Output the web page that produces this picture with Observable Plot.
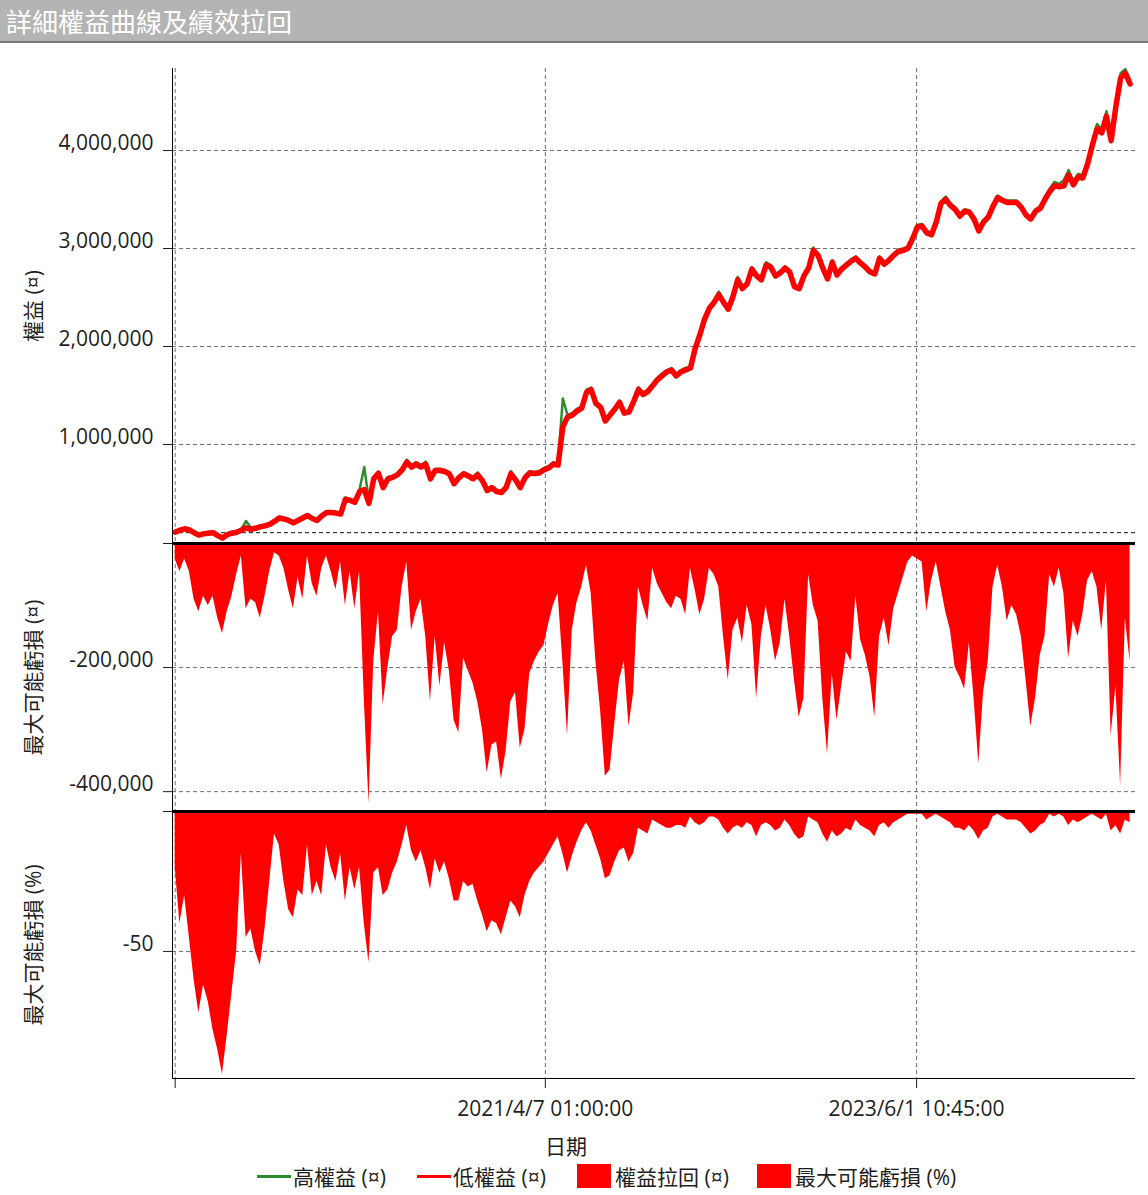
<!DOCTYPE html>
<html>
<head>
<meta charset="utf-8">
<script src="https://cdn.jsdelivr.net/npm/d3@7"></script>
<script src="https://cdn.jsdelivr.net/npm/@observablehq/plot@0.6"></script>
<style>
  body { margin: 0; background: #fff; font-family: "Open Sans", "Noto Sans CJK TC", sans-serif; color: #1e1e1e; }
  #wrap { position: relative; width: 1148px; height: 1195px; overflow: hidden; background: #fff; }
  #title { position: absolute; left: 0; top: 0; width: 1148px; height: 43px; box-sizing: border-box;
           background: #b4b4b4; border-bottom: 2px solid #787878; color: #fff; font-size: 26px;
           line-height: 41px; padding-left: 6px; font-family: "Noto Sans CJK TC", sans-serif; }
  .panel { position: absolute; left: 0; }
  .panel svg { background: transparent !important; overflow: visible; }
  #xlabel { position: absolute; top: 1130px; left: 566px; transform: translateX(-50%); font-size: 21px; }
  .legend-item { position: absolute; top: 1163px; height: 26px; display: flex; align-items: center; font-size: 21px; white-space: nowrap; }
  .sw-line { width: 34px; height: 3px; margin-right: 2px; }
  .sw-box { width: 34px; height: 24px; margin-right: 4px; }
</style>
</head>
<body>
<div id="wrap">
  <div id="title"></div>
  <div id="p1" class="panel" style="top:60px"></div>
  <div id="p2" class="panel" style="top:533px"></div>
  <div id="p3" class="panel" style="top:801px"></div>
  <div id="xlabel"></div>
  <div id="legend"></div>
</div>
<script>
// ---------- texts ----------
const titleText = "詳細權益曲線及績效拉回";
const xAxisTitle = "日期";
const equityLabel = "權益 (¤)";
const drawdownLabel = "最大可能虧損 (¤)";
const drawdownPctLabel = "最大可能虧損 (%)";
const legendLabels = ["高權益 (¤)", "低權益 (¤)", "權益拉回 (¤)", "最大可能虧損 (%)"];

// ---------- x axis ----------
const firstSampleDate = "2019-02-14T00:00:00Z";
const sampleStepDays = 10;
const xDomain = [new Date("2019-02-08T08:00:00Z"), new Date("2024-09-06T12:00:00Z")];
const xTickDates = ["2019-02-14T00:00:00Z", "2021-04-07T01:00:00Z", "2023-06-01T10:45:00Z"];
const xTickLabels = ["", "2021/4/7 01:00:00", "2023/6/1 10:45:00"];

// ---------- y axes ----------
const equityTicks = [1000000, 2000000, 3000000, 4000000];
const drawdownTicks = [0, -200000, -400000];
const drawdownPctTicks = [0, -50];
const equityDomain = [-10200, 4837000];
const drawdownDomain = [-432000, 0];
const drawdownPctDomain = [-95.4, 0];
const initialCapital = 100000;

// ---------- series (equity in thousands, one value every 10 days) ----------
const lowEquityK = [
  105,125,140,128,100,75,88,95,100,70,
  45,80,95,105,125,150,135,145,160,170,
  185,215,250,240,225,200,225,250,275,245,
  225,270,305,305,300,290,440,430,410,520,
  540,400,650,705,560,650,665,690,740,820,
  770,800,770,800,650,735,735,725,700,600,
  660,700,680,650,690,630,530,560,520,510,
  560,700,640,560,660,710,705,710,740,760,
  800,790,1180,1280,1300,1340,1370,1530,1560,1420,
  1380,1240,1300,1360,1430,1320,1330,1440,1560,1510,
  1540,1600,1660,1700,1740,1760,1700,1740,1760,1780,
  1980,2120,2280,2390,2450,2530,2450,2380,2510,2680,
  2590,2640,2790,2720,2680,2830,2810,2720,2750,2800,
  2760,2610,2590,2720,2800,2980,2930,2800,2690,2860,
  2730,2790,2830,2870,2900,2850,2810,2760,2740,2900,
  2840,2880,2930,2970,2980,3000,3100,3220,3230,3160,
  3140,3270,3460,3500,3440,3400,3330,3380,3370,3300,
  3180,3270,3320,3430,3520,3490,3470,3470,3470,3420,
  3340,3300,3380,3410,3500,3580,3640,3630,3640,3750,
  3650,3730,3720,3860,4050,4220,4180,4350,4100,4450,
  4740,4790,4680
];
const highEquityK = [
  120,140,150,140,112,88,100,108,112,85,
  60,92,108,118,140,220,150,158,175,185,
  200,228,262,252,238,215,238,265,290,258,
  240,285,318,320,312,305,460,445,425,540,
  770,420,672,725,580,668,680,705,760,845,
  790,820,790,825,670,750,752,740,718,620,
  680,718,695,668,715,648,550,575,538,528,
  578,730,660,580,680,728,720,728,760,780,
  820,810,1470,1300,1320,1365,1390,1560,1580,1440,
  1400,1260,1320,1380,1450,1340,1350,1460,1585,1530,
  1560,1620,1680,1725,1760,1780,1720,1760,1785,1800,
  2000,2140,2300,2410,2470,2560,2470,2400,2530,2710,
  2610,2660,2810,2740,2700,2860,2830,2740,2770,2820,
  2780,2630,2610,2740,2820,3010,2950,2820,2710,2880,
  2750,2810,2850,2890,2920,2870,2830,2780,2760,2920,
  2860,2900,2950,2990,3000,3020,3120,3240,3250,3180,
  3160,3290,3480,3530,3460,3420,3350,3400,3390,3320,
  3200,3290,3340,3450,3540,3510,3490,3490,3490,3440,
  3360,3320,3400,3430,3530,3610,3680,3660,3700,3800,
  3690,3760,3750,3900,4090,4270,4220,4400,4150,4500,
  4790,4830,4720
];
const drawdownK = [
  -25,-45,-25,-45,-90,-110,-85,-100,-85,-120,
  -145,-110,-85,-50,-20,-105,-90,-95,-120,-85,
  -45,-15,-20,-40,-75,-105,-55,-90,-20,-65,
  -85,-40,-20,-45,-75,-30,-100,-45,-105,-45,
  -250,-420,-190,-110,-260,-200,-150,-140,-70,-30,
  -140,-110,-90,-150,-255,-150,-230,-160,-205,-285,
  -305,-185,-205,-225,-255,-300,-370,-325,-320,-380,
  -335,-255,-240,-330,-300,-210,-190,-175,-165,-130,
  -100,-80,-190,-310,-140,-95,-70,-35,-80,-190,
  -270,-375,-365,-290,-220,-190,-295,-240,-70,-100,
  -125,-40,-65,-80,-95,-105,-85,-90,-115,-40,
  -75,-115,-90,-40,-50,-70,-150,-220,-140,-120,
  -160,-100,-130,-250,-150,-100,-140,-190,-160,-90,
  -150,-220,-280,-250,-50,-100,-125,-250,-340,-210,
  -285,-230,-175,-190,-85,-155,-180,-215,-280,-150,
  -120,-165,-105,-80,-55,-30,-20,-25,-30,-110,
  -60,-30,-70,-110,-140,-200,-215,-235,-160,-250,
  -355,-240,-190,-70,-35,-70,-125,-100,-115,-150,
  -220,-295,-250,-180,-150,-50,-70,-40,-80,-185,
  -125,-150,-115,-60,-45,-70,-140,-60,-310,-230,
  -390,-120,-190
];
const drawdownPct = [
  -20,-40,-30,-45,-60,-72,-62,-68,-78,-85,
  -94,-80,-65,-50,-15,-45,-42,-50,-55,-42,
  -25,-8,-12,-25,-35,-38,-28,-30,-12,-30,
  -25,-30,-12,-20,-25,-15,-32,-20,-28,-20,
  -40,-54,-22,-20,-30,-28,-22,-18,-12,-5,
  -14,-18,-14,-20,-28,-17,-22,-18,-24,-32,
  -32,-25,-27,-26,-32,-37,-43,-39,-40,-44,
  -38,-32,-34,-38,-30,-25,-22,-20,-18,-15,
  -12,-9,-15,-22,-16,-11,-7,-4,-7,-12,
  -17,-24,-23,-18,-14,-13,-18,-15,-6,-7,
  -8,-3,-4,-5,-6,-6,-5,-5,-6,-2,
  -4,-5,-4,-2,-2,-3,-6,-8,-6,-5,
  -6,-4,-5,-9,-5,-4,-5,-7,-6,-3,
  -5,-8,-10,-9,-2,-3,-4,-8,-11,-7,
  -9,-8,-6,-7,-3,-5,-6,-7,-9,-5,
  -4,-6,-4,-3,-2,-1,-1,-1,-1,-3,
  -2,-1,-2,-3,-4,-6,-6,-7,-5,-7,
  -10,-7,-6,-2,-1,-2,-3,-3,-3,-4,
  -6,-8,-7,-5,-4,-1,-2,-1,-2,-5,
  -3,-4,-3,-2,-1,-2,-3,-1,-7,-5,
  -8,-3,-4
];

// ---------- styles ----------
const red = "#ff0000";
const green = "#2e8b2e";
const fontStack = '"Open Sans", "Noto Sans CJK TC", sans-serif';
const grid = {stroke: "#6e6e6e", strokeDasharray: "4,3", strokeWidth: 1};

// ---------- table ----------
const t0 = new Date(firstSampleDate).getTime();
const rows = lowEquityK.map((v, i) => ({
  date: new Date(t0 + i * sampleStepDays * 864e5),
  low: v * 1000,
  high: highEquityK[i] * 1000,
  dd: drawdownK[i] * 1000,
  ddPct: drawdownPct[i]
}));
const xTicks = xTickDates.map(s => new Date(s));
const xTickLabelMap = new Map(xTicks.map((d, i) => [+d, xTickLabels[i]]));
const numFmt = d => d === 0 ? "" : d.toLocaleString("en-US");

const common = {
  width: 1148, marginLeft: 172, marginRight: 13,
  style: {fontSize: "21px", fontFamily: fontStack, background: "transparent", color: "#1e1e1e", overflow: "visible"}
};

function yAxes(ticks, label) {
  return [
    Plot.axisY(ticks, {tickSize: 9, tickFormat: () => "", label: null}),
    Plot.axisY(ticks, {tickSize: 0, tickPadding: 19, dy: -7, tickFormat: numFmt,
      label, labelAnchor: "center", labelOffset: 146, labelArrow: "none"})
  ];
}

// ---------- panel 1: equity ----------
const p1 = Plot.plot({
  ...common, height: 483, marginTop: 8, marginBottom: 0,
  x: {type: "utc", domain: xDomain, axis: null},
  y: {domain: equityDomain},
  marks: [
    Plot.ruleX(xTicks, grid),
    Plot.ruleY(equityTicks, grid),
    Plot.ruleY([initialCapital], {stroke: "#111", strokeDasharray: "4,3"}),
    Plot.lineY(rows, {x: "date", y: "high", stroke: green, strokeWidth: 2.5}),
    Plot.lineY(rows, {x: "date", y: "low", stroke: red, strokeWidth: 5.5, strokeLinejoin: "round"}),
    ...yAxes(equityTicks, equityLabel),
    Plot.ruleX([xDomain[0]], {stroke: "#000"})
  ]
});

// ---------- panel 2: drawdown ----------
const p2 = Plot.plot({
  ...common, height: 278, marginTop: 10, marginBottom: 0,
  x: {type: "utc", domain: xDomain, axis: null},
  y: {domain: drawdownDomain},
  marks: [
    Plot.ruleX(xTicks, grid),
    Plot.ruleY(drawdownTicks.slice(1), grid),
    Plot.areaY(rows, {x: "date", y: "dd", fill: red}),
    Plot.ruleY([0], {stroke: "#000", strokeWidth: 3}),
    ...yAxes(drawdownTicks, drawdownLabel),
    Plot.ruleX([xDomain[0]], {stroke: "#000"})
  ]
});

// ---------- panel 3: drawdown % ----------
const p3 = Plot.plot({
  ...common, height: 357, marginTop: 10, marginBottom: 80,
  x: {type: "utc", domain: xDomain},
  y: {domain: drawdownPctDomain},
  marks: [
    Plot.ruleX(xTicks, grid),
    Plot.ruleY(drawdownPctTicks.slice(1), grid),
    Plot.areaY(rows, {x: "date", y: "ddPct", fill: red}),
    Plot.ruleY([0], {stroke: "#000", strokeWidth: 3}),
    ...yAxes(drawdownPctTicks, drawdownPctLabel),
    Plot.axisX(xTicks, {tickSize: 10, tickPadding: 13, tickFormat: d => xTickLabelMap.get(+d), label: null}),
    Plot.ruleX([xDomain[0]], {stroke: "#000"}),
    Plot.ruleY([drawdownPctDomain[0]], {stroke: "#000"})
  ]
});

document.getElementById("p1").appendChild(p1);
document.getElementById("p2").appendChild(p2);
document.getElementById("p3").appendChild(p3);
document.getElementById("title").textContent = titleText;
document.getElementById("xlabel").textContent = xAxisTitle;

// ---------- legend ----------
const legendLeft = [257, 417, 577, 757];
const legendSwatches = [
  {kind: "line", color: green}, {kind: "line", color: red},
  {kind: "box", color: red}, {kind: "box", color: red}
];
const legend = document.getElementById("legend");
legendLabels.forEach((lab, i) => {
  const item = document.createElement("div");
  item.className = "legend-item";
  item.style.left = legendLeft[i] + "px";
  const sw = document.createElement("span");
  sw.className = legendSwatches[i].kind === "line" ? "sw-line" : "sw-box";
  sw.style.background = legendSwatches[i].color;
  const tx = document.createElement("span");
  tx.textContent = lab;
  item.appendChild(sw);
  item.appendChild(tx);
  legend.appendChild(item);
});
</script>
</body>
</html>
